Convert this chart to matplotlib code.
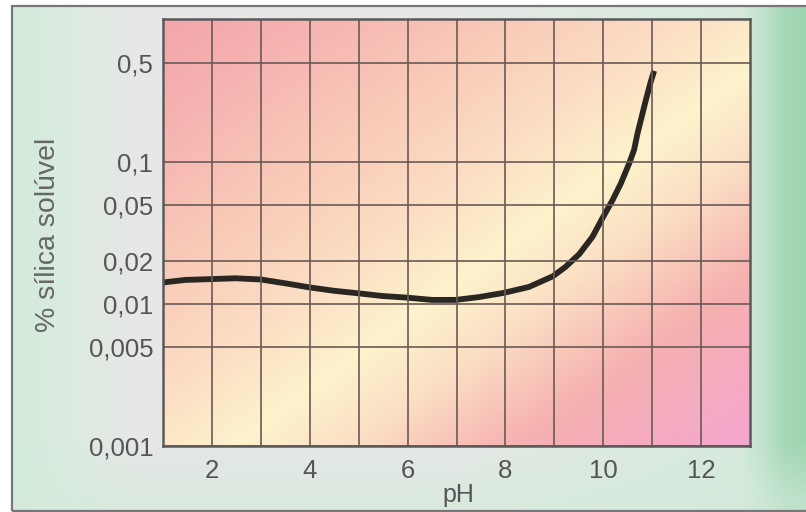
import numpy as np
import matplotlib
matplotlib.use("Agg")
import matplotlib.pyplot as plt
from matplotlib.colors import LinearSegmentedColormap, to_rgb
from matplotlib.ticker import FixedLocator, NullLocator
from matplotlib.patches import Rectangle

# ---- data ----
ph = [1.0, 1.46, 2.0, 2.48, 3.0, 3.5, 4.0, 4.5, 5.0, 5.48, 5.99, 6.5, 6.98,
      7.46, 7.97, 8.48, 8.97, 9.23, 9.51, 9.78, 9.98, 10.19, 10.36, 10.53,
      10.63, 10.70, 10.87, 10.97, 11.04]
silica = [0.0142, 0.0148, 0.0150, 0.0152, 0.0149, 0.0140, 0.0131, 0.0124,
          0.0119, 0.0114, 0.0111, 0.0107, 0.0107, 0.0112, 0.0120, 0.0132,
          0.0157, 0.0183, 0.0225, 0.0298, 0.0401, 0.054, 0.0708, 0.098,
          0.122, 0.159, 0.273, 0.368, 0.44]
y_ticks = [0.001, 0.005, 0.01, 0.02, 0.05, 0.1, 0.5]
y_tick_labels = ["0,001", "0,005", "0,01", "0,02", "0,05", "0,1", "0,5"]
x_ticks = [2, 4, 6, 8, 10, 12]
x_tick_labels = ["2", "4", "6", "8", "10", "12"]
x_grid = [3, 5, 7, 9, 11]

plt.rcParams['font.family'] = ['Liberation Sans', 'DejaVu Sans']

W, H = 806, 512
fig = plt.figure(figsize=(W / 100, H / 100), dpi=100)
fig.patch.set_facecolor('white')

# ---- figure background gradient ----
bg = fig.add_axes([0, 0, 1, 1], zorder=-10)
bg.set_axis_off()
xs = np.arange(W)
stops_x = [0, 12, 70, 130, 450, 740, 762, 785, 806]
cols_x = ['#d2eada', '#d2eada', '#dcebe0', '#e6e7e6', '#e6e8e6', '#d6eadc',
          '#c0e3cc', '#a4d7b6', '#9dd4b0']
rgb_x = np.array([to_rgb(c) for c in cols_x])
row = np.stack([np.interp(xs, stops_x, rgb_x[:, k]) for k in range(3)], axis=-1)
img = np.repeat(row[None, :, :], H, axis=0)
ys = np.arange(H)[:, None]
mint = np.array(to_rgb('#d3eadb'))
wb = np.clip((ys - 440) / 60.0, 0, 1)[:, :, None] * 0.6
img = img * (1 - wb) + mint * wb
img[:, :12] = 1.0
img[:6, :] = 1.0
img[511:, :] = 1.0
bg.imshow(img, extent=[0, 1, 0, 1], aspect='auto', origin='upper',
          transform=bg.transAxes)
bg.set_xlim(0, 1)
bg.set_ylim(0, 1)
bg.add_patch(Rectangle((12 / W, 1 / H), 1.2, (H - 7) / H, fill=False,
                       edgecolor='#777777', linewidth=1.6,
                       transform=bg.transAxes))

# ---- main axes ----
left, right, top, bottom = 163, 750, 19, 446
ax = fig.add_axes([left / W, 1 - bottom / H, (right - left) / W, (bottom - top) / H])
ax.set_yscale('log')
ax.set_xlim(1, 13)
ax.set_ylim(0.001, 1.02)

# plot-area gradient (diagonal)
n = 300
u = np.linspace(0, 1, n)[None, :]
v = np.linspace(1, 0, n)[:, None]
s = (u - v)
cmap = LinearSegmentedColormap.from_list('bgp', [
    (0.0, '#f4a5ab'),
    (0.15, '#f6b6b2'),
    (0.30, '#f9cbb8'),
    (0.45, '#fcdfc4'),
    (0.56, '#fdf3cc'),
    (0.66, '#fbdfc4'),
    (0.80, '#f6b1b0'),
    (1.0, '#f4a6cf'),
])
ax.imshow((s + 1) / 2, cmap=cmap, vmin=0, vmax=1, extent=[0, 1, 0, 1],
          aspect='auto', transform=ax.transAxes, zorder=0, interpolation='bilinear')

# grid
ax.yaxis.set_major_locator(FixedLocator(y_ticks))
ax.yaxis.set_minor_locator(NullLocator())
ax.set_yticklabels(y_tick_labels)
ax.xaxis.set_major_locator(FixedLocator(x_ticks))
ax.xaxis.set_minor_locator(FixedLocator(x_grid))
ax.set_xticklabels(x_tick_labels)
ax.grid(True, which='both', axis='x', color='#6a5a55', linewidth=1.2, zorder=1)
ax.grid(True, which='major', axis='y', color='#6a5a55', linewidth=1.2, zorder=1)
ax.set_axisbelow(False)
ax.tick_params(which='both', length=0, labelsize=18.5, labelcolor='#555555')
ax.tick_params(axis='y', pad=7)
ax.tick_params(axis='x', pad=9)
for sp in ax.spines.values():
    sp.set_color('#5a5a5a')
    sp.set_linewidth(1.8)
    sp.set_zorder(3)

ax.plot(ph, silica, color='#2a2622', linewidth=4.2, solid_capstyle='butt',
        solid_joinstyle='round', zorder=2, clip_on=False)

fig.text(458 / W, 1 - 495 / H, 'pH', ha='center', va='center',
         fontsize=18, color='#555555')
fig.text(48 / W, 1 - 235 / H, '% sílica solúvel', ha='center', va='center',
         rotation=90, fontsize=20.5, color='#666666')

fig.savefig('out.png', dpi=100)
